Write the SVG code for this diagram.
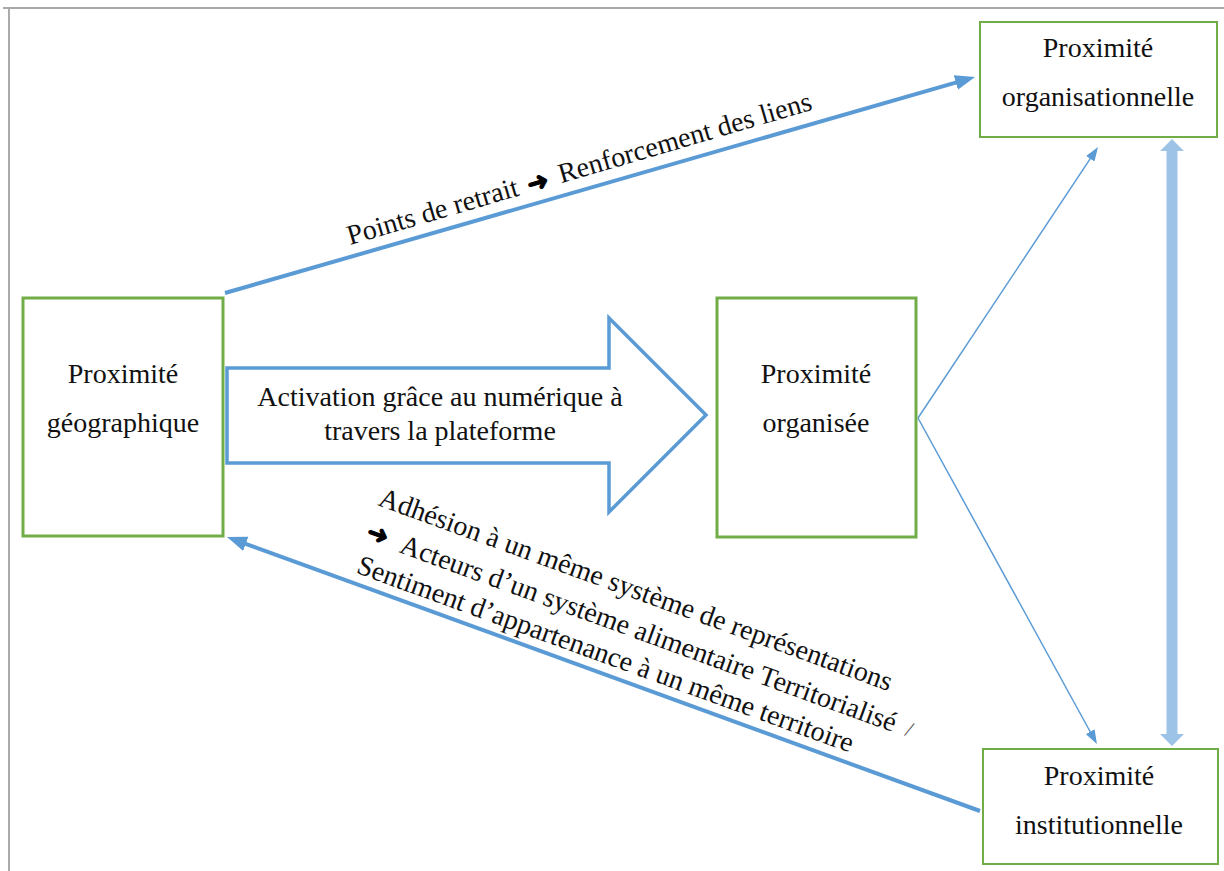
<svg xmlns="http://www.w3.org/2000/svg" width="1224" height="871" viewBox="0 0 1224 871">
  <defs>
    <style>
      .box { fill: #ffffff; stroke: #70ad47; }
      .lbl { font-family: "Liberation Serif", "Times New Roman", serif; font-size: 28px; fill: #111111; }
      .mid { text-anchor: middle; }
      .arr { font-family: "DejaVu Sans", sans-serif; font-weight: bold; font-size: 26px; fill: #000000; stroke: #000000; stroke-width: 1.2; }
      .thick { stroke: #5b9bd5; stroke-width: 4; fill: none; }
      .thin { stroke: #5b9bd5; stroke-width: 1.5; fill: none; }
    </style>
    <marker id="headBig" viewBox="0 0 20 15" markerUnits="userSpaceOnUse" markerWidth="20" markerHeight="15" refX="8" refY="7.5" orient="auto">
      <path d="M0,0 L20,7.5 L0,15 z" fill="#5b9bd5"/>
    </marker>
    <marker id="headSmall" viewBox="0 0 14 10" markerUnits="userSpaceOnUse" markerWidth="14" markerHeight="10" refX="6" refY="5" orient="auto">
      <path d="M0,0 L14,5 L0,10 z" fill="#5b9bd5"/>
    </marker>
  </defs>

  <rect width="1224" height="871" fill="#ffffff"/>
  <!-- frame -->
  <g id="frame" stroke="#aaaaaa" stroke-width="2" fill="none">
    <line x1="3" y1="8" x2="1224" y2="8"/>
    <line x1="9" y1="8" x2="9" y2="871"/>
  </g>

  <g id="connectors">
    <line class="thick" x1="225" y1="293" x2="963.5" y2="80.3" marker-end="url(#headBig)"/>
    <line class="thick" x1="980" y1="811" x2="238.3" y2="541.1" marker-end="url(#headBig)"/>
    <line class="thin" x1="918" y1="418" x2="1093.6" y2="153.7" marker-end="url(#headSmall)"/>
    <line class="thin" x1="918" y1="418" x2="1093.1" y2="737" marker-end="url(#headSmall)"/>
    <polygon points="1172,139 1184,151 1177.5,151 1177.5,734 1184,734 1172,746 1160,734 1166.5,734 1166.5,151 1160,151" fill="#9dc3e6"/>
    <g id="blockArrow">
      <polygon points="227,368 609,368 609,318 706,415 609,512 609,463 227,463" fill="#ffffff" stroke="#5b9bd5" stroke-width="3.5" stroke-linejoin="miter"/>
      <text class="lbl mid" x="440" y="406">Activation grâce au numérique à</text>
      <text class="lbl mid" x="440" y="440">travers la plateforme</text>
    </g>
    <g id="labelTop" transform="translate(350,245) rotate(-16.3)">
      <text class="lbl" x="0" y="0">Points de retrait</text>
      <text class="arr" x="187" y="1">➜</text>
      <text class="lbl" x="220" y="0">Renforcement des liens</text>
    </g>
    <g id="labelBottom" transform="translate(377,505) rotate(20)">
      <text class="lbl" x="0" y="0">Adhésion à un même système de représentations</text>
      <text class="arr" x="0" y="36">➜</text>
      <text class="lbl" x="36" y="37">Acteurs d’un système alimentaire Territorialisé</text>
      <text class="lbl" x="574" y="36" style="font-size:22px; fill:#555555">/</text>
      <text class="lbl" x="2.6" y="71">Sentiment d’appartenance à un même territoire</text>
    </g>
  </g>

  <g id="node-geographique">
    <rect class="box" x="23" y="298" width="200" height="238" stroke-width="3"/>
    <text class="lbl mid" x="123" y="383">Proximité</text>
    <text class="lbl mid" x="123" y="432">géographique</text>
  </g>
  <g id="node-organisee">
    <rect class="box" x="717" y="298" width="199" height="239" stroke-width="3"/>
    <text class="lbl mid" x="816" y="383">Proximité</text>
    <text class="lbl mid" x="816" y="432">organisée</text>
  </g>
  <g id="node-organisationnelle">
    <rect class="box" x="980" y="22" width="237" height="115" stroke-width="2"/>
    <text class="lbl mid" x="1098" y="57">Proximité</text>
    <text class="lbl mid" x="1098" y="106">organisationnelle</text>
  </g>
  <g id="node-institutionnelle">
    <rect class="box" x="983" y="749" width="235" height="115" stroke-width="2"/>
    <text class="lbl mid" x="1099" y="785">Proximité</text>
    <text class="lbl mid" x="1099" y="834">institutionnelle</text>
  </g>
</svg>
